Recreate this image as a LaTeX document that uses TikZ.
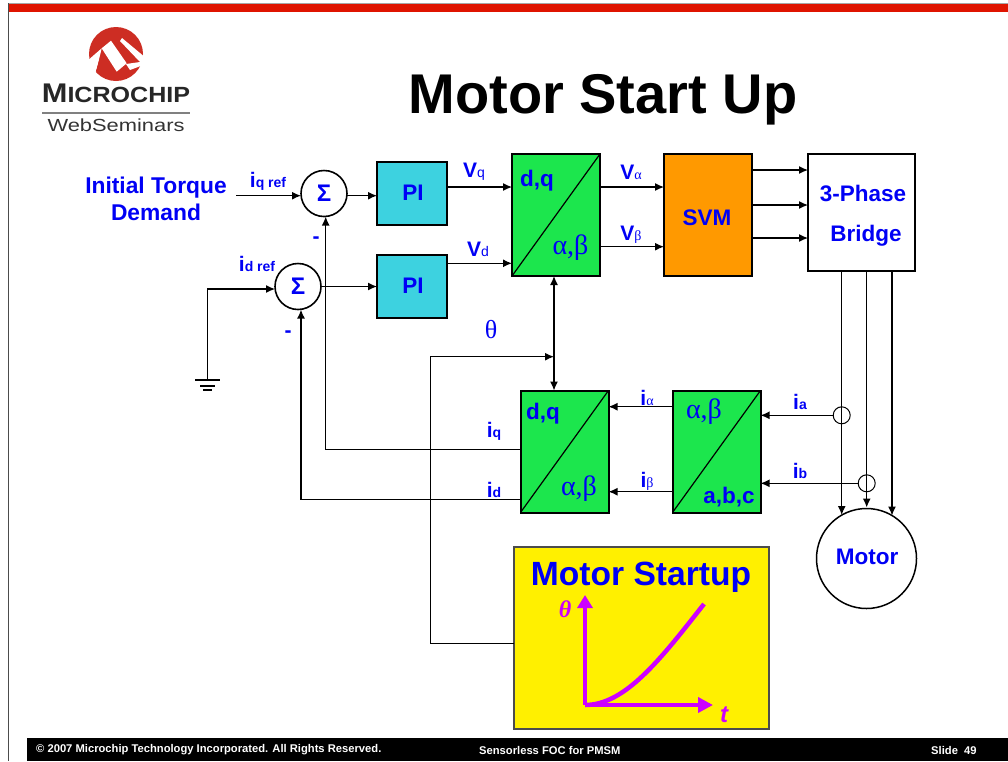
\documentclass[tikz,border=0pt]{standalone}
\usepackage{fontspec}
\setmainfont{Liberation Sans}
\newfontfamily\greekfont{Liberation Serif}
\usetikzlibrary{arrows.meta}
\definecolor{slideblue}{RGB}{0,0,245}
\definecolor{blockgreen}{RGB}{28,230,77}
\definecolor{blockcyan}{RGB}{61,210,224}
\definecolor{blockorange}{RGB}{255,153,0}
\definecolor{startyellow}{RGB}{255,240,0}
\definecolor{startpurple}{RGB}{204,0,255}
\definecolor{barred}{RGB}{223,20,0}
\definecolor{logored}{RGB}{205,45,35}
\newcommand{\fs}[1]{\fontsize{#1}{#1}\selectfont}
\tikzset{
    sig/.style={line width=1.3pt, black, -{Latex[length=9pt,width=8pt]}},
    bisig/.style={line width=1.3pt, black, {Latex[length=9pt,width=8pt]}-{Latex[length=9pt,width=8pt]}},
    wire/.style={line width=1.2pt, black},
    block/.style={draw=black, line width=2pt, inner sep=0pt, outer sep=0pt},
    sumnode/.style={draw=black, circle, fill=white, line width=1.6pt, minimum size=46pt, inner sep=0pt, outer sep=0pt, text=slideblue, font=\fs{24}\bfseries},
    lab/.style={text=slideblue, inner sep=0pt, font=\fs{21}\bfseries},
    biglab/.style={text=slideblue, inner sep=0pt, font=\fs{22.5}\bfseries},
    greeklab/.style={text=slideblue, inner sep=0pt, font=\fs{28}\greekfont},
    foot/.style={text=white, inner sep=0pt, anchor=west, font=\fs{11.2}\bfseries},
}
\begin{document}
\begin{tikzpicture}[x=1pt, y=-1pt]
    \useasboundingbox (0,0) rectangle (1008,761);

    % slide frame
    \fill[white] (0,0) rectangle (1008,761);
    \fill[barred] (8,3) rectangle (1008,12);
    \draw[gray!70, line width=0.8pt] (8,3) -- (1008,3);
    \draw[black!70, line width=0.8pt] (8,3) -- (8,761);
    \fill[black] (27,738) rectangle (1008,761);
    \node[foot] (copyright) at (36,750) {© 2007 Microchip Technology Incorporated. All Rights Reserved.};
    \node[foot] (course) at (479,750) {Sensorless FOC for PMSM};
    \node[foot] (slide) at (931,750) {Slide\ \ 49};

    % logo
    \fill[logored] (116,54) circle (27);
    \fill[white] (101.7,48.3) -- (111,40.7) -- (126.7,63.3) -- (116.7,71.7) -- cycle;
    \fill[white] (86,62) -- (86,68) -- (96,72) -- (101.7,48.3) -- cycle;
    \fill[logored] (96,71) -- (100,58) -- (116,72) -- (105,76) -- cycle;
    \fill[white] (126,64) -- (130,70) -- (146,64) -- (146,58) -- (122,38) -- (120,41) -- (140,62) -- cycle;
    \node[inner sep=0pt, font=\fs{27}\bfseries, text=black!85, xscale=1.14] (logotext) at (116,93) {M\fs{22}ICROCHIP};
    \draw[gray, line width=2pt] (42,113) -- (190,113);
    \node[inner sep=0pt, font=\fs{17.5}, text=black!80, xscale=1.25] (logosub) at (116,125) {WebSeminars};

    \node[inner sep=0pt, font=\fs{56}\bfseries] (title) at (603,100) {Motor Start Up};

    % blocks
    \node[sumnode] (sumq) at (324,193.5) {Σ};
    \node[sumnode] (sumd) at (298,286.5) {Σ};
    \node[block, fill=blockcyan, minimum width=70pt, minimum height=63pt] (piq) at (412,193.5) {};
    \node[block, fill=blockcyan, minimum width=70pt, minimum height=63pt] (pid) at (412,286.5) {};
    \node[block, fill=blockgreen, minimum width=88pt, minimum height=122pt] (dqfwd) at (556,215) {};
    \node[block, fill=blockorange, minimum width=88pt, minimum height=122pt] (svm) at (708,215) {};
    \node[block, fill=white, line width=1.5pt, minimum width=107pt, minimum height=117pt] (bridge) at (861.5,212.5) {};
    \node[block, fill=blockgreen, minimum width=88pt, minimum height=122pt] (dqback) at (564.5,451.5) {};
    \node[block, fill=blockgreen, minimum width=88pt, minimum height=122pt] (abc) at (716.5,451.5) {};
    \node[draw=black, circle, line width=1.5pt, minimum size=100pt, inner sep=0pt, outer sep=0pt] (motor) at (866.5,558.5) {};
    \node[draw=black!70, fill=startyellow, line width=2pt, minimum width=255pt, minimum height=182pt, inner sep=0pt, outer sep=0pt] (startup) at (641.5,638) {};
    \foreach \n in {dqfwd, dqback, abc} {
        \draw[line width=1.2pt] (\n.south west) -- (\n.north east);
    }

    % free ends and ports
    \coordinate (iqin) at (236,195.7);
    \coordinate (vqport) at (512,187);
    \coordinate (vdport) at (512,263.3);
    \coordinate (vaport) at (664,187);
    \coordinate (vbport) at (664,246.7);
    \coordinate (gnd) at (207.5,380);
    \coordinate (thetajoin) at (554,356.7);
    \coordinate (thetacorner) at (430.7,356.7);
    \coordinate (startport) at (514,643.7);
    \coordinate (iqport) at (520.7,449.3);
    \coordinate (idport) at (520.7,499.5);
    \coordinate (ialport) at (672.7,406.7);
    \coordinate (ibeport) at (672.7,491.7);
    \coordinate (sena) at (841.7,415.3);
    \coordinate (senb) at (866.7,483.3);

    % forward path
    \draw[sig] (iqin) -- (sumq.west |- iqin);
    \draw[sig] (sumq.east |- iqin) -- (piq.west |- iqin);
    \draw[sig] (sumd.east) -- (pid.west);
    \draw[sig] (piq.east |- vqport) -- (vqport);
    \draw[sig] (pid.east |- vdport) -- (vdport);
    \draw[sig] (dqfwd.east |- vaport) -- (vaport);
    \draw[sig] (dqfwd.east |- vbport) -- (vbport);
    \foreach \y in {170, 205, 238} {
        \draw[sig] (svm.east |- 0,\y) -- (bridge.west |- 0,\y);
    }
    \foreach \x/\b in {841.7/515, 866.7/507.5, 892/515.5} {
        \draw[sig] (\x,271) -- (\x,\b);
    }

    % sensors
    \node[draw=black, circle, line width=1pt, minimum size=17pt, inner sep=0pt, outer sep=0pt] (senaring) at (sena) {};
    \node[draw=black, circle, line width=1pt, minimum size=17pt, inner sep=0pt, outer sep=0pt] (senbring) at (senb) {};

    % ground
    \draw[sig] (gnd) |- (sumd.west |- 0,289);
    \draw[wire] (195,380) -- (220,380);
    \draw[wire] (200,386) -- (215,386);
    \draw[wire] (203,390) -- (212,390);

    % feedback
    \draw[sig] (iqport) -| (325.7,216.6);
    \draw[sig] (idport) -| (301,309.6);
    \draw[sig] (ialport) -- (dqback.east |- ialport);
    \draw[sig] (ibeport) -- (dqback.east |- ibeport);
    \draw[sig] (senaring.west) -- (abc.east |- sena);
    \draw[sig] (senbring.west) -- (abc.east |- senb);
    \draw[bisig] (dqfwd.south -| thetajoin) -- (dqback.north -| thetajoin);
    \draw[sig] (startport) -| (thetacorner) -- (thetajoin);

    % block labels
    \node[lab] (sumqlab) at (268,181) {i\fs{14}q ref};
    \node[lab] (sumdlab) at (257,264) {i\fs{14}d ref};
    \node[lab, font=\fs{22.8}\bfseries, align=center] (torque) at (156,199) {Initial Torque\\[4pt]Demand};
    \node[lab] (minusq) at (316,240) {-};
    \node[lab] (minusd) at (288,334) {-};
    \node[biglab] (pilabq) at (413,193) {PI};
    \node[biglab] (pilabd) at (413,286) {PI};
    \node[lab] (vq) at (474,172) {V\fs{14}\mdseries q};
    \node[lab] (vd) at (478,249) {V\fs{14}\mdseries d};
    \node[biglab] (dqa) at (537,181) {d,q};
    \node[greeklab] (aba) at (570.5,248) {α,β};
    \node[lab] (va) at (631,172) {V{\fs{14}\greekfont\mdseries α}};
    \node[lab] (vb) at (631,235) {V{\fs{14}\greekfont\mdseries β}};
    \node[biglab] (svmlab) at (707,218) {SVM};
    \node[biglab] (phase) at (863,193) {3-Phase};
    \node[biglab] (bridgelab) at (866,236) {Bridge};
    \node[greeklab, font=\fs{26}\greekfont] (theta) at (491,330) {θ};
    \node[lab] (iq) at (494,431) {i\fs{14}q};
    \node[lab] (id) at (494,490) {i\fs{14}d};
    \node[biglab] (dqb) at (543,414) {d,q};
    \node[greeklab] (abb) at (579,489) {α,β};
    \node[lab] (ial) at (647,398) {i{\fs{14}\greekfont\mdseries α}};
    \node[lab] (ibe) at (647,481) {i{\fs{14}\greekfont\mdseries β}};
    \node[greeklab] (abc1) at (704,412) {α,β};
    \node[biglab] (abc2) at (729,497) {a,b,c};
    \node[lab] (ia) at (800,402) {i\fs{14}a};
    \node[lab] (ib) at (800,471) {i\fs{14}b};
    \node[biglab] (motorlab) at (867,557) {Motor};

    % startup ramp
    \node[lab, font=\fs{33.6}\bfseries] (startlab) at (641,577) {Motor Startup};
    \coordinate (rampo) at (585,705);
    \draw[startpurple, line width=4.5pt, -{Triangle[length=13pt,width=15pt]}] (rampo) -- (585,595);
    \draw[startpurple, line width=4.5pt, -{Triangle[length=15pt,width=15pt]}] (rampo) -- (713,705);
    \draw[startpurple, line width=4.5pt] (rampo) .. controls (625,705) and (660,660) .. (704,604);
    \node[inner sep=0pt, text=startpurple, font=\fs{24}\bfseries\itshape] (ramptheta) at (565,609) {\greekfont θ};
    \node[inner sep=0pt, text=startpurple, font=\fs{24}\bfseries\itshape] (rampt) at (724,715) {t};
\end{tikzpicture}
\end{document}
